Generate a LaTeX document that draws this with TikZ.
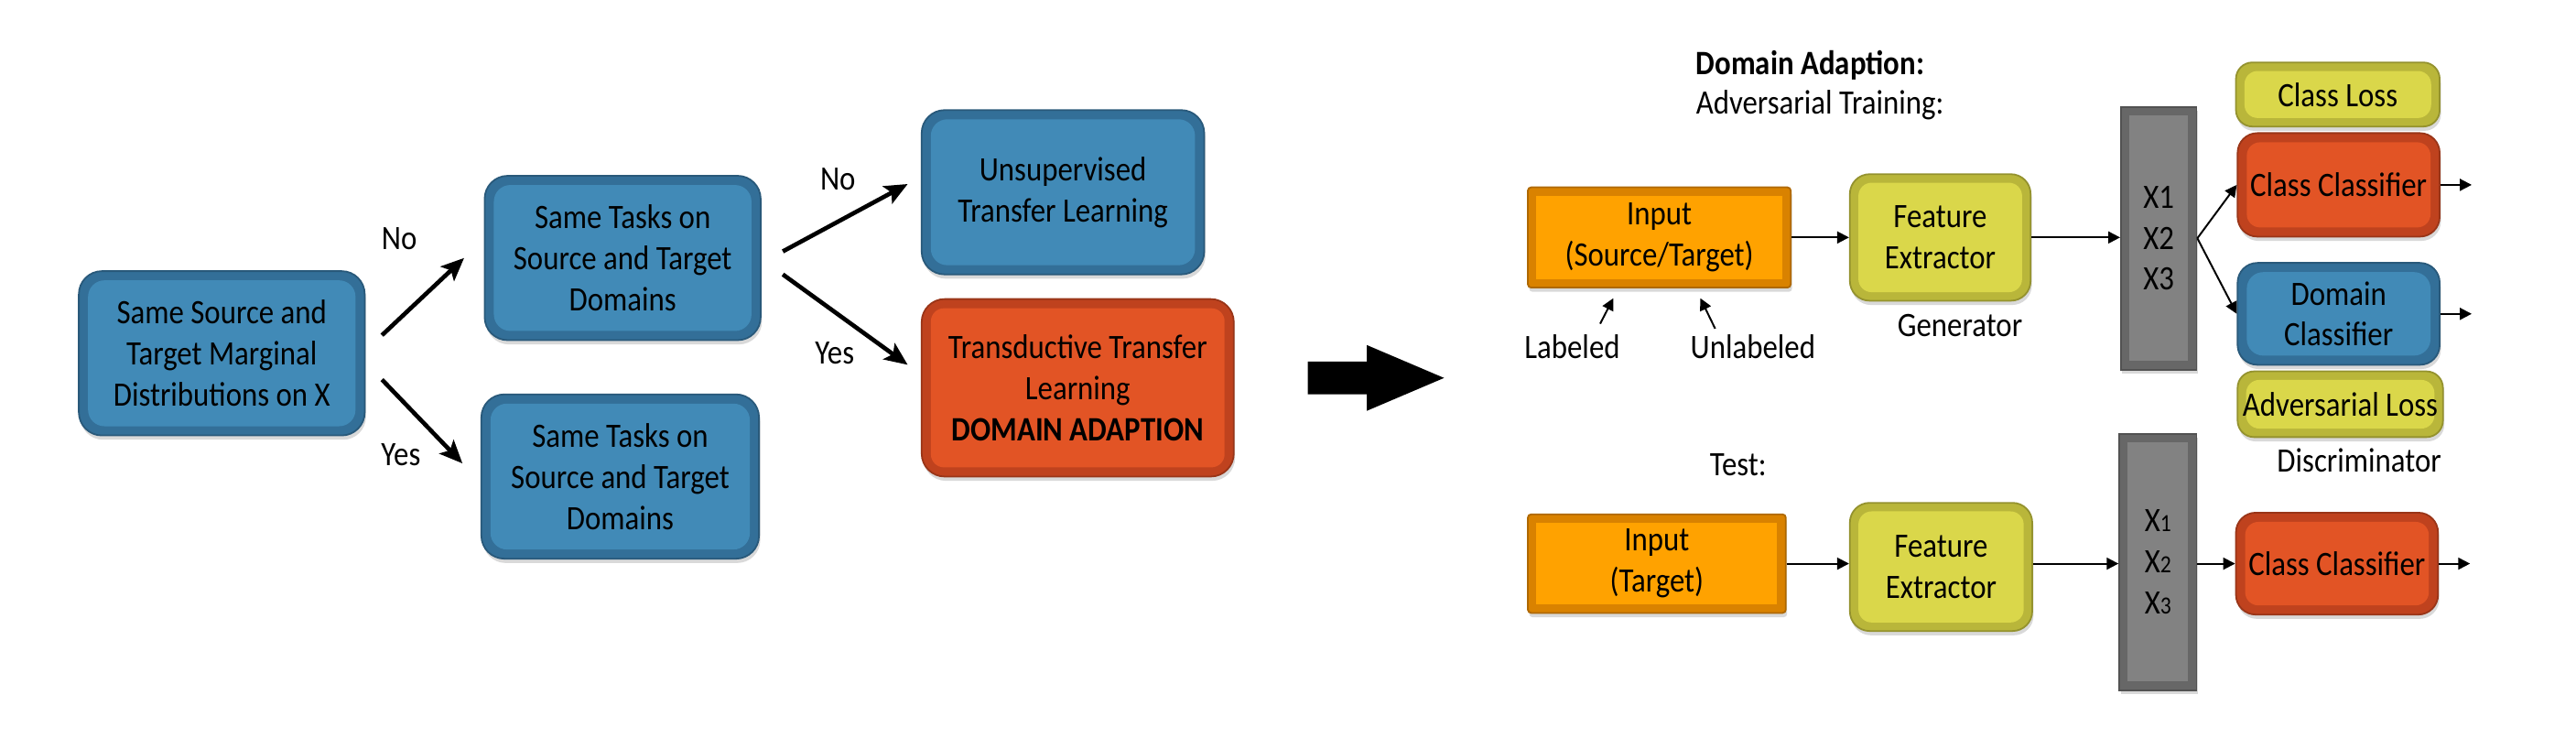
\documentclass[tikz,border=0pt]{standalone}
\usepackage{fontspec}
\setmainfont[FakeStretch=0.88]{Carlito}
\usetikzlibrary{arrows.meta,shadows}
\definecolor{bluein}{HTML}{418AB7}
\definecolor{blueout}{HTML}{336F98}
\definecolor{redin}{HTML}{E25425}
\definecolor{redout}{HTML}{BF421E}
\definecolor{orin}{HTML}{FFA200}
\definecolor{orout}{HTML}{D98200}
\definecolor{yin}{HTML}{DAD74A}
\definecolor{yout}{HTML}{B9B63A}
\definecolor{gin}{HTML}{828282}
\definecolor{gout}{HTML}{676767}
\tikzset{
  bx/.style n args={5}{rectangle, rounded corners=#3, fill=#1, draw=#1!80!black, line width=0.5pt,
    path picture={\fill[#2, rounded corners=#4] ([shift={(#5,-#5)}]path picture bounding box.north west) rectangle ([shift={(-#5,#5)}]path picture bounding box.south east);},
    drop shadow={shadow xshift=0.4pt, shadow yshift=-1.3pt, opacity=0.3},
    inner sep=1pt, align=center, text=black},
  bluebox/.style={bx={blueout}{bluein}{7pt}{5pt}{2.8pt}},
  redbox/.style={bx={redout}{redin}{6pt}{4pt}{2.8pt}},
  yelbox/.style={bx={yout}{yin}{6pt}{4pt}{2.6pt}},
  orbox/.style={bx={orout}{orin}{1pt}{0pt}{2.6pt}},
  barbox/.style={bx={gout}{gin}{0pt}{0pt}{2.6pt}},
  txt/.style={font=\fontsize{10.4}{12.5}\selectfont, align=center, inner sep=0pt},
  thk/.style={line width=1.3pt, -{Stealth[length=7pt,width=6pt,inset=1.5pt]}},
  thn/.style={line width=0.55pt, -{Triangle[length=3.6pt,width=3.6pt]}},
}
\begin{document}
\begin{tikzpicture}[x=0.5pt,y=-0.5pt]
\useasboundingbox (0,0) rectangle (1568,449);
\tikzset{every node/.append style={font=\fontsize{10.4}{12.5}\selectfont}}
% left decision tree
\node[bluebox, minimum width=87pt, minimum height=50pt] (b1) at (135,215) {Same Source and\\Target Marginal\\Distributions on X};
\node[bluebox, minimum width=84pt, minimum height=50pt] (b2) at (379,157) {Same Tasks on\\Source and Target\\Domains};
\node[bluebox, minimum width=84.5pt, minimum height=50pt] (b3) at (377.5,290) {Same Tasks on\\Source and Target\\Domains};
\node[bluebox, minimum width=86pt, minimum height=50pt] (b4) at (647,117) {Unsupervised\\Transfer Learning};
\node[redbox, minimum width=95pt, minimum height=54pt, rounded corners=7pt] (b5) at (656,236) {Transductive Transfer\\Learning\\\textbf{DOMAIN ADAPTION}};
\draw[thk] ([shift={(10,-11)}]b1.east) -- ([shift={(-12,0)}]b2.west);
\draw[thk] ([shift={(10,16)}]b1.east) -- ([shift={(-11,-8)}]b3.west);
\draw[thk] ([shift={(13,-4)}]b2.east) -- ([shift={(-8,-5)}]b4.west);
\draw[thk] ([shift={(13,10)}]b2.east) -- ([shift={(-8,-14)}]b5.west);
\node[txt] (no1) at (243,145) {No};
\node[txt] (yes1) at (244,277) {Yes};
\node[txt] (no2) at (510,109) {No};
\node[txt] (yes2) at (508,215) {Yes};
% big arrow
\fill[black] (796,220) -- (832,220) -- (832,210) -- (879,230) -- (832,250) -- (832,240) -- (796,240) -- cycle;
% right: training
\node[txt, anchor=west] (title) at (1032,40) {\textbf{Domain Adaption:}};
\node[txt, anchor=west] (adv) at (1032,64) {Adversarial Training:};
\node[orbox, minimum width=80pt, minimum height=30.5pt] (in1) at (1010,144.5) {Input\\(Source/Target)};
\node[yelbox, minimum width=55pt, minimum height=38.5pt] (fe1) at (1181,144.5) {Feature\\Extractor};
\node[barbox, minimum width=23pt, minimum height=80pt] (bar1) at (1314,145) {X1\\X2\\X3};
\node[yelbox, minimum width=62pt, minimum height=19.5pt, rounded corners=5pt] (cl) at (1423,57.5) {Class Loss};
\node[redbox, minimum width=61.5pt, minimum height=31.5pt] (cc1) at (1423.5,112.5) {Class Classifier};
\node[bluebox, minimum width=61.5pt, minimum height=31pt, rounded corners=6pt] (dc) at (1423.5,191) {Domain\\Classifier};
\node[yelbox, minimum width=62.5pt, minimum height=20pt, rounded corners=5pt] (al) at (1424.5,246) {Adversarial Loss};
\node[txt] (gen) at (1193,198) {Generator};
\node[txt] (disc) at (1436,280) {Discriminator};
\node[txt] (lab) at (957,211) {Labeled};
\node[txt] (ulab) at (1067,211) {Unlabeled};
\draw[thn] (in1.east) -- (fe1.west);
\draw[thn] (fe1.east) -- (fe1.east -| bar1.west);
\draw[thn] (bar1.east) -- (cc1.west);
\draw[thn] (bar1.east) -- (dc.west);
\draw[thn] (cc1.east) -- ++(19,0);
\draw[thn] (dc.east) -- ++(19,0);
\draw[thn] ([shift={(17,-14)}]lab.center) -- ([shift={(-28,6)}]in1.south);
\draw[thn] ([shift={(-23,-11)}]ulab.center) -- ([shift={(25,6)}]in1.south);
% right: test
\node[txt] (test) at (1058,283) {Test:};
\node[orbox, minimum width=78.5pt, minimum height=30pt] (in2) at (1008.5,343) {Input\\(Target)};
\node[yelbox, minimum width=55.5pt, minimum height=39pt] (fe2) at (1181.5,345) {Feature\\Extractor};
\node[barbox, minimum width=23.5pt, minimum height=78pt] (bar2) at (1313.5,342) {X{\fontsize{7.5}{8}\selectfont 1}\\X{\fontsize{7.5}{8}\selectfont 2}\\X{\fontsize{7.5}{8}\selectfont 3}};
\node[redbox, minimum width=61.5pt, minimum height=31pt] (cc2) at (1422.5,343) {Class Classifier};
\draw[thn] (in2.east) -- (in2.east -| fe2.west);
\draw[thn] (in2.east -| fe2.east) -- (in2.east -| bar2.west);
\draw[thn] (in2.east -| bar2.east) -- (cc2.west);
\draw[thn] (cc2.east) -- ++(19,0);
\end{tikzpicture}
\end{document}
